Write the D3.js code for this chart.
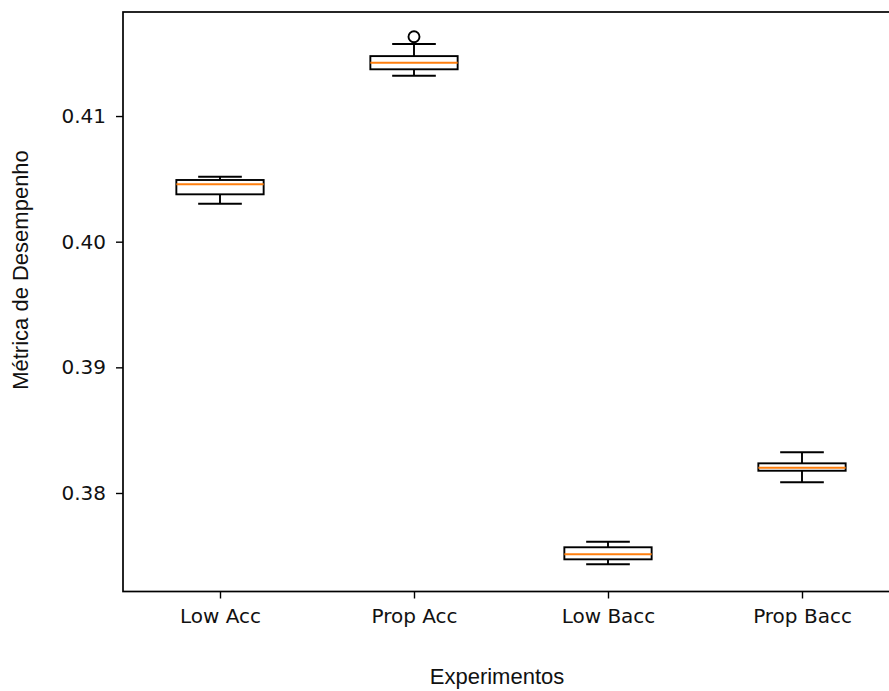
<!DOCTYPE html>
<html>
<head>
<meta charset="utf-8">
<script src="https://cdn.jsdelivr.net/npm/d3@7"></script>
<style>
  html, body { margin: 0; padding: 0; background: #fff; }
  svg { display: block; }
</style>
</head>
<body>
<svg id="chart" width="889" height="691"></svg>
<script>
// Experiment names and box statistics
const categories = ["Low Acc", "Prop Acc", "Low Bacc", "Prop Bacc"];
const whiskerLow = [0.40302, 0.41321, 0.37433, 0.38085];
const q1 = [0.40377, 0.41372, 0.37472, 0.38177];
const medians = [0.40457, 0.41424, 0.37512, 0.38201];
const q3 = [0.40491, 0.41477, 0.37568, 0.38236];
const whiskerHigh = [0.40517, 0.41573, 0.37612, 0.38324];
const outliers = [[], [0.41631], [], []];
const yTicks = [0.38, 0.39, 0.40, 0.41];

const svg = d3.select("#chart");
const plotLeft = 123, plotRight = 899, plotTop = 12, plotBottom = 591.5;

const x = d3.scaleLinear().domain([0.5, 4.5]).range([plotLeft, plotRight]);
const y = d3.scaleLinear().domain([0.37216, 0.41828]).range([plotBottom, plotTop]);
const boxW = 0.45, capW = 0.225;

const g = svg.append("g");

// boxes
categories.forEach((c, i) => {
  const p = i + 1;
  const bx = g.append("g").attr("fill", "none").attr("stroke", "#000").attr("stroke-width", 1.9);
  bx.append("line").attr("x1", x(p)).attr("x2", x(p)).attr("y1", y(q1[i])).attr("y2", y(whiskerLow[i]));
  bx.append("line").attr("x1", x(p)).attr("x2", x(p)).attr("y1", y(q3[i])).attr("y2", y(whiskerHigh[i]));
  bx.append("line").attr("x1", x(p - capW / 2)).attr("x2", x(p + capW / 2)).attr("y1", y(whiskerLow[i])).attr("y2", y(whiskerLow[i]));
  bx.append("line").attr("x1", x(p - capW / 2)).attr("x2", x(p + capW / 2)).attr("y1", y(whiskerHigh[i])).attr("y2", y(whiskerHigh[i]));
  bx.append("rect").attr("x", x(p - boxW / 2)).attr("width", x(p + boxW / 2) - x(p - boxW / 2))
    .attr("y", y(q3[i])).attr("height", y(q1[i]) - y(q3[i]));
  g.append("line").attr("stroke", "#ff7f0e").attr("stroke-width", 1.9)
    .attr("x1", x(p - boxW / 2)).attr("x2", x(p + boxW / 2)).attr("y1", y(medians[i])).attr("y2", y(medians[i]));
  outliers[i].forEach(v => {
    g.append("circle").attr("cx", x(p)).attr("cy", y(v)).attr("r", 5.5)
      .attr("fill", "none").attr("stroke", "#000").attr("stroke-width", 1.9);
  });
});

// axes
const yAxis = d3.axisLeft(y).tickValues(yTicks).tickFormat(d3.format(".2f")).tickSizeOuter(0).tickSize(7).tickPadding(10);
const xAxis = d3.axisBottom(x).tickValues([1, 2, 3, 4]).tickFormat((d) => categories[d - 1]).tickSizeOuter(0).tickSize(7).tickPadding(10);

const ya = svg.append("g").attr("transform", `translate(${plotLeft},0)`).call(yAxis);
const xa = svg.append("g").attr("transform", `translate(0,${plotBottom})`).call(xAxis);
[ya, xa].forEach(a => {
  a.select(".domain").remove();
  a.selectAll(".tick line").attr("stroke", "#000").attr("stroke-width", 1.4);
  a.selectAll(".tick text").attr("fill", "#111").style("font-family", "DejaVu Sans").style("font-size", "20px");
});

// frame
svg.append("rect").attr("x", plotLeft).attr("y", plotTop).attr("width", plotRight - plotLeft).attr("height", plotBottom - plotTop)
  .attr("fill", "none").attr("stroke", "#000").attr("stroke-width", 1.7);

// axis titles
svg.append("text").attr("x", 497).attr("y", 684).attr("text-anchor", "middle")
  .style("font-family", "Liberation Sans, Arial, sans-serif").style("font-size", "22px").attr("fill", "#111")
  .text("Experimentos");
svg.append("text").attr("transform", "translate(28,270) rotate(-90)").attr("text-anchor", "middle")
  .style("font-family", "Liberation Sans, Arial, sans-serif").style("font-size", "22px").attr("fill", "#111")
  .text("Métrica de Desempenho");
</script>
</body>
</html>
